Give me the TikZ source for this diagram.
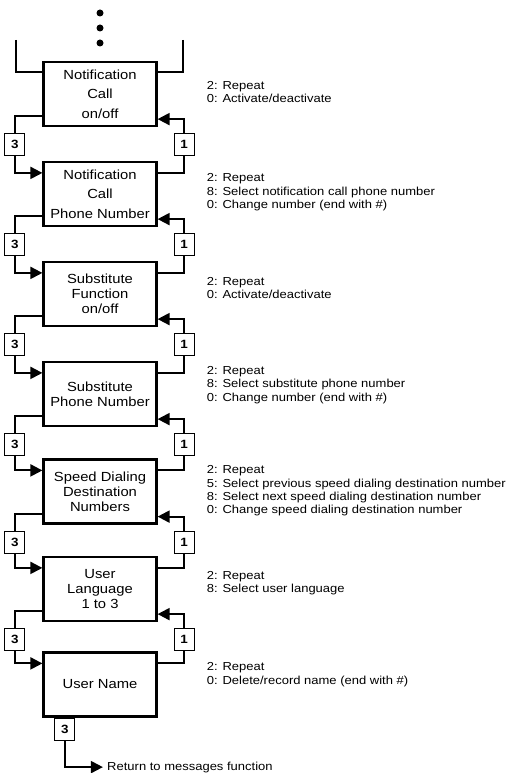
\documentclass[tikz,border=0pt]{standalone}
\usepackage{fontspec}
\setmainfont[FakeStretch=1.12]{Liberation Sans}
\usepackage{tikz}
\usetikzlibrary{positioning,arrows.meta}
\tikzstyle{arrow} = [-{Triangle[length=12pt,width=12pt]}]
\tikzstyle{menu} = [draw, line width=2.2pt, minimum width=113pt, minimum height=64pt, align=center, font=\fontsize{13.2}{15.2}\selectfont]
\tikzstyle{key} = [draw, fill=white, line width=1pt, minimum width=20pt, minimum height=22pt, inner sep=0pt, font=\fontsize{12}{14}\bfseries]
\tikzstyle{note} = [align=left, font=\fontsize{11.6}{13.4}\selectfont]
\tikzstyle{dot} = [circle, fill, inner sep=0pt, minimum size=7pt]

\begin{document}
\begin{tikzpicture}[x=1pt, y=1pt, node distance=100pt, line width=2pt]
		\useasboundingbox (0,0) rectangle (511,-773);

		\node[dot] (dot1) at (100,-13) {};
		\node[dot] (dot2) at (100,-28) {};
		\node[dot] (dot3) at (100,-43) {};
		\coordinate (topL) at (16,-40);
		\coordinate (topR) at (183,-40);

		\node[menu] (1box) at (100,-94) {Notification\\[4.5pt]Call\\[4.5pt]on/off};
		\node[menu] (2box) [below of=1box] {Notification\\[4.5pt]Call\\[4.5pt]Phone Number};
		\node[menu] (3box) [below of=2box] {Substitute\\Function\\on/off};
		\node[menu] (4box) [below of=3box] {Substitute\\Phone Number};
		\node[menu] (5box) [below of=4box, yshift=2.5pt] {Speed Dialing\\Destination\\Numbers};
		\node[menu] (6box) [below of=5box, yshift=2.5pt] {User\\Language\\1 to 3};
		\node[menu] (7box) [below of=6box, yshift=4.5pt] {User Name};

		\node[note] (1note) [right=45pt of 1box.east, yshift=2pt] {2: Repeat\\0: Activate/deactivate};
		\node[note] (2note) [right=45pt of 2box.east, yshift=1.5pt] {2: Repeat\\8: Select notification call phone number\\0: Change number (end with \#)};
		\node[note] (3note) [right=45pt of 3box.east, yshift=6pt] {2: Repeat\\0: Activate/deactivate};
		\node[note] (4note) [right=45pt of 4box.east, yshift=9pt] {2: Repeat\\8: Select substitute phone number\\0: Change number (end with \#)};
		\node[note] (5note) [right=45pt of 5box.east, yshift=0.5pt] {2: Repeat\\5: Select previous speed dialing destination number\\8: Select next speed dialing destination number\\0: Change speed dialing destination number};
		\node[note] (6note) [right=45pt of 6box.east, yshift=6pt] {2: Repeat\\8: Select user language};
		\node[note] (7note) [right=45pt of 7box.east, yshift=10pt] {2: Repeat\\0: Delete/record name (end with \#)};

		\node[key] (1left) [below=6pt of 1box.south west, xshift=-27.5pt] {3};
		\node[key] (1right) [below=6pt of 1box.south east, xshift=26.5pt] {1};
		\node[key] (2left) [below=6pt of 2box.south west, xshift=-27.5pt] {3};
		\node[key] (2right) [below=6pt of 2box.south east, xshift=26.5pt] {1};
		\node[key] (3left) [below=6pt of 3box.south west, xshift=-27.5pt] {3};
		\node[key] (3right) [below=6pt of 3box.south east, xshift=26.5pt] {1};
		\node[key] (4left) [below=6pt of 4box.south west, xshift=-27.5pt] {3};
		\node[key] (4right) [below=6pt of 4box.south east, xshift=26.5pt] {1};
		\node[key] (5left) [below=6pt of 5box.south west, xshift=-27.5pt] {3};
		\node[key] (5right) [below=6pt of 5box.south east, xshift=26.5pt] {1};
		\node[key] (6left) [below=6pt of 6box.south west, xshift=-27.5pt] {3};
		\node[key] (6right) [below=6pt of 6box.south east, xshift=26.5pt] {1};
		\node[key] (7down) [below=0pt of 7box.south west, xshift=22.5pt] {3};
		\node[note] (ret) [right=27.5pt of 7down.east, yshift=-38pt] {Return to messages function};

		% coming in from above
		\draw (topL) |- ([yshift=-11pt]1box.north west);
		\draw (topR) |- ([yshift=-11pt]1box.north east);

		\draw ([yshift=11pt]1box.south west) -| (1left);
		\draw [arrow] (1left) |- ([yshift=-12pt]2box.north west);
		\draw ([yshift=-12pt]2box.north east) -| (1right);
		\draw [arrow] (1right) |- ([yshift=8pt]1box.south east);

		\draw ([yshift=11pt]2box.south west) -| (2left);
		\draw [arrow] (2left) |- ([yshift=-12pt]3box.north west);
		\draw ([yshift=-12pt]3box.north east) -| (2right);
		\draw [arrow] (2right) |- ([yshift=8pt]2box.south east);

		\draw ([yshift=11pt]3box.south west) -| (3left);
		\draw [arrow] (3left) |- ([yshift=-12pt]4box.north west);
		\draw ([yshift=-12pt]4box.north east) -| (3right);
		\draw [arrow] (3right) |- ([yshift=8pt]3box.south east);

		\draw ([yshift=11pt]4box.south west) -| (4left);
		\draw [arrow] (4left) |- ([yshift=-12pt]5box.north west);
		\draw ([yshift=-12pt]5box.north east) -| (4right);
		\draw [arrow] (4right) |- ([yshift=8pt]4box.south east);

		\draw ([yshift=11pt]5box.south west) -| (5left);
		\draw [arrow] (5left) |- ([yshift=-12pt]6box.north west);
		\draw ([yshift=-12pt]6box.north east) -| (5right);
		\draw [arrow] (5right) |- ([yshift=8pt]5box.south east);

		\draw ([yshift=11pt]6box.south west) -| (6left);
		\draw [arrow] (6left) |- ([yshift=-12pt]7box.north west);
		\draw ([yshift=-12pt]7box.north east) -| (6right);
		\draw [arrow] (6right) |- ([yshift=8pt]6box.south east);

		\draw [arrow] (7down) |- (ret);
	\end{tikzpicture}
\end{document}
